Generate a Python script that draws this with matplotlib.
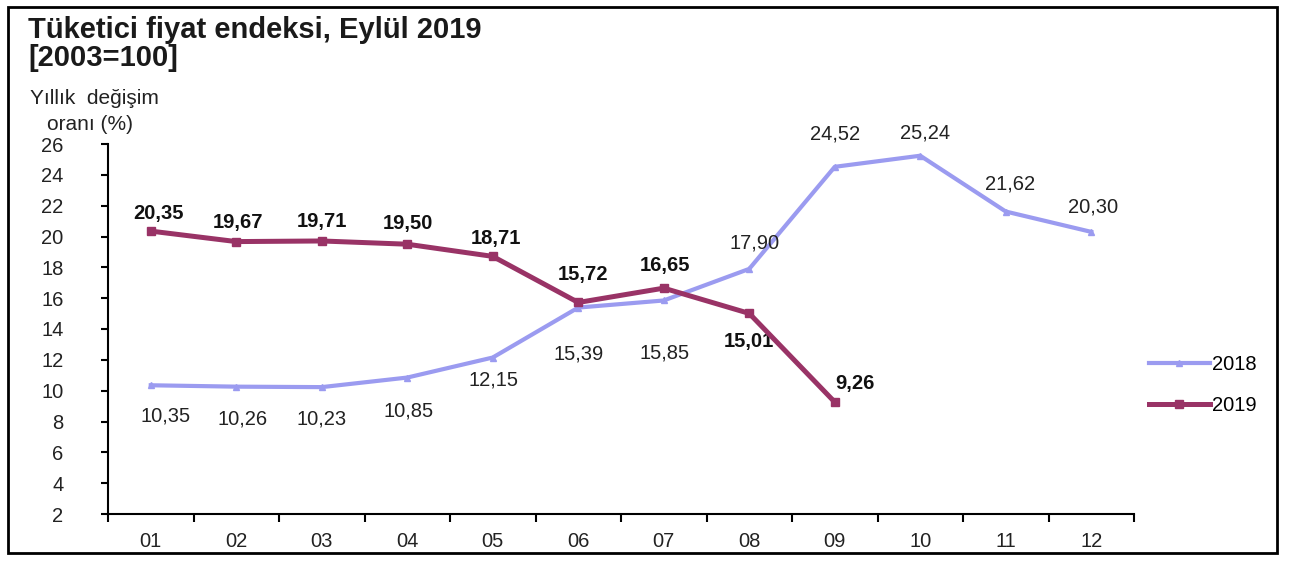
import matplotlib
matplotlib.use("Agg")
import matplotlib.pyplot as plt
from matplotlib.patches import Rectangle
from matplotlib.lines import Line2D

months = ["01", "02", "03", "04", "05", "06", "07", "08", "09", "10", "11", "12"]
values_2018 = [10.35, 10.26, 10.23, 10.85, 12.15, 15.39, 15.85, 17.90, 24.52, 25.24, 21.62, 20.30]
values_2019 = [20.35, 19.67, 19.71, 19.50, 18.71, 15.72, 16.65, 15.01, 9.26]
labels_2018 = ["10,35", "10,26", "10,23", "10,85", "12,15", "15,39", "15,85", "17,90", "24,52", "25,24", "21,62", "20,30"]
labels_2019 = ["20,35", "19,67", "19,71", "19,50", "18,71", "15,72", "16,65", "15,01", "9,26"]
yticks = [2, 4, 6, 8, 10, 12, 14, 16, 18, 20, 22, 24, 26]

# label offsets in pixels (dx, dy), positive dy = up
off_2018 = [(15, -31), (6, -32), (0, -32), (1, -33), (1, -22), (0, -46), (1, -53), (5, 26), (0, 33), (5, 23), (4, 28), (2, 25)]
off_2019 = [(8, 18), (2, 19), (0, 19), (1, 21), (3, 18), (5, 28), (1, 23), (0, -28), (20, 19)]

c2018 = "#9B9BF0"
c2019 = "#993366"
fs = 14.5

W, H = 1295, 561
fig = plt.figure(figsize=(W / 100, H / 100), dpi=100)
plt.rcParams['font.family'] = ['Liberation Sans', 'DejaVu Sans']

ax = fig.add_axes([108 / W, 1 - 514 / H, (1134 - 108) / W, (514 - 144) / H])
x = list(range(len(months)))
ax.plot(x, values_2018, color=c2018, lw=3, marker="^", ms=5, zorder=3, clip_on=False)
ax.plot(x[:len(values_2019)], values_2019, color=c2019, lw=3.6, marker="s", ms=6, zorder=4, clip_on=False)

for i, (v, t) in enumerate(zip(values_2018, labels_2018)):
    ax.annotate(t, (i, v), xytext=off_2018[i], textcoords="offset pixels",
                ha="center", va="center", fontsize=fs, color="#222222")
for i, (v, t) in enumerate(zip(values_2019, labels_2019)):
    ax.annotate(t, (i, v), xytext=off_2019[i], textcoords="offset pixels",
                ha="center", va="center", fontsize=fs, fontweight="bold", color="#111111")

ax.set_xlim(-0.5, len(months) - 0.5)
ax.set_ylim(2, 26)
ax.set_yticks(yticks)
ax.set_yticklabels([str(t) for t in yticks], fontsize=fs, color="#222222")
ax.set_xticks(x)
ax.set_xticklabels(months, fontsize=fs, color="#222222")
ax.set_xticks([i - 0.5 for i in range(len(months) + 1)], minor=True)
ax.tick_params(axis="x", which="major", length=0, pad=13)
ax.tick_params(axis="x", which="minor", length=6, width=1.5, direction="out")
ax.tick_params(axis="y", which="major", length=5, width=1.5, direction="out", pad=27)
ax.spines["top"].set_visible(False)
ax.spines["right"].set_visible(False)
ax.spines["left"].set_linewidth(1.5)
ax.spines["bottom"].set_linewidth(1.5)

fig.text(28 / W, 1 - 30 / H, "Tüketici fiyat endeksi, Eylül 2019", fontsize=21,
         fontweight="bold", va="center", ha="left", color="#1a1a1a")
fig.text(28 / W, 1 - 58 / H, "[2003=100]", fontsize=21,
         fontweight="bold", va="center", ha="left", color="#1a1a1a")
fig.text(30 / W, 1 - 99 / H, "Yıllık  değişim", fontsize=15, va="center", ha="left", color="#222222")
fig.text(47 / W, 1 - 124 / H, "oranı (%)", fontsize=15, va="center", ha="left", color="#222222")

handles = [Line2D([0], [0], color=c2018, lw=3, marker="^", ms=5),
           Line2D([0], [0], color=c2019, lw=3.6, marker="s", ms=6)]
fig.legend(handles, ["2018", "2019"], loc="center left", bbox_to_anchor=(1131 / W, 1 - 385 / H),
           frameon=False, fontsize=fs, handlelength=3.0, handletextpad=0.1, labelspacing=1.1)

fig.add_artist(Rectangle((8 / W, 1 - 553 / H), (1277 - 8) / W, (553 - 7) / H,
                         transform=fig.transFigure, fill=False, edgecolor="black", lw=2))

fig.savefig("out.png", dpi=100, facecolor="white")
